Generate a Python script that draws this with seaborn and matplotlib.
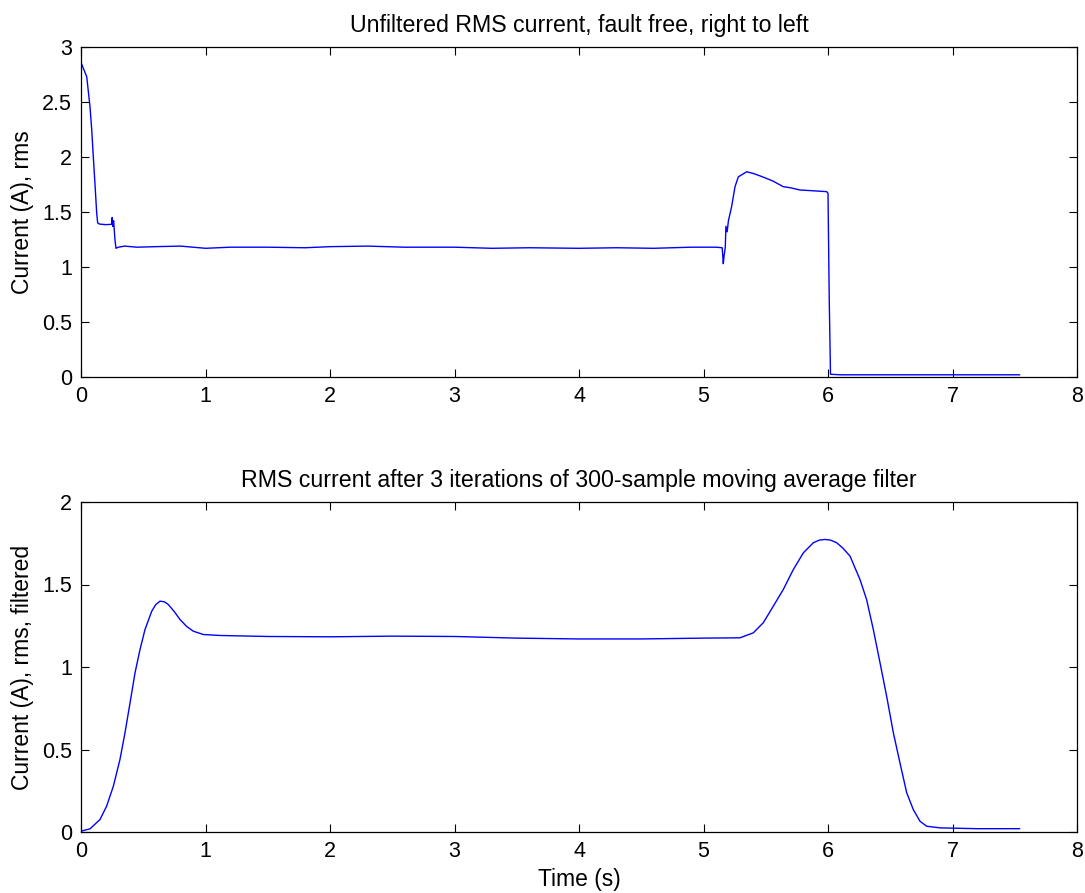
import matplotlib
matplotlib.use("Agg")
import matplotlib.pyplot as plt
import seaborn as sns
import pandas as pd

# ---- Data ----
# Top panel: unfiltered RMS current
t_raw = [0.00, 0.005, 0.046, 0.072, 0.086, 0.099, 0.112, 0.126, 0.134, 0.15, 0.20, 0.246,
         0.250, 0.255, 0.262, 0.273, 0.281, 0.30, 0.35, 0.45, 0.60, 0.80, 1.00, 1.20,
         1.50, 1.80, 2.00, 2.30, 2.60, 3.00, 3.30, 3.60, 4.00, 4.30, 4.60, 4.90, 5.10,
         5.150, 5.159, 5.165, 5.175, 5.180, 5.190, 5.200, 5.226, 5.253, 5.280, 5.347,
         5.400, 5.450, 5.507, 5.560, 5.641, 5.700, 5.775, 5.850, 5.920, 5.990, 6.000,
         6.010, 6.020, 6.100, 6.500, 7.000, 7.540]
i_raw = [2.86, 2.845, 2.73, 2.46, 2.25, 2.00, 1.76, 1.49, 1.40, 1.39, 1.385, 1.388,
         1.45, 1.37, 1.42, 1.245, 1.17, 1.18, 1.19, 1.18, 1.185, 1.19, 1.17, 1.18,
         1.18, 1.175, 1.185, 1.19, 1.18, 1.18, 1.17, 1.175, 1.17, 1.175, 1.17, 1.18, 1.18,
         1.175, 1.03, 1.10, 1.18, 1.37, 1.32, 1.42, 1.55, 1.73, 1.82, 1.866,
         1.85, 1.83, 1.805, 1.78, 1.73, 1.72, 1.70, 1.695, 1.69, 1.685, 1.67,
         0.70, 0.025, 0.02, 0.02, 0.02, 0.02]

# Bottom panel: filtered RMS current
t_filt = [0.000, 0.072, 0.153, 0.206, 0.260, 0.313, 0.353, 0.394, 0.434, 0.474, 0.514,
          0.568, 0.600, 0.635, 0.670, 0.701, 0.750, 0.795, 0.850, 0.902, 0.982, 1.116,
          1.500, 2.000, 2.500, 3.000, 3.500, 4.000, 4.500, 5.000, 5.293, 5.400, 5.480,
          5.561, 5.641, 5.721, 5.802, 5.882, 5.930, 5.976, 6.020, 6.070, 6.120, 6.177,
          6.257, 6.310, 6.364, 6.418, 6.471, 6.525, 6.578, 6.632, 6.685, 6.739, 6.793,
          6.900, 7.200, 7.540]
i_filt = [0.005, 0.019, 0.076, 0.157, 0.278, 0.440, 0.600, 0.783, 0.965, 1.106, 1.227,
          1.338, 1.378, 1.399, 1.395, 1.379, 1.335, 1.288, 1.245, 1.217, 1.197, 1.191,
          1.185, 1.183, 1.187, 1.185, 1.175, 1.170, 1.170, 1.175, 1.177, 1.207, 1.268,
          1.369, 1.470, 1.590, 1.692, 1.753, 1.769, 1.773, 1.769, 1.753, 1.720, 1.672,
          1.530, 1.409, 1.227, 1.025, 0.823, 0.601, 0.419, 0.238, 0.136, 0.065, 0.035,
          0.025, 0.020, 0.020]

x_ticks = [0, 1, 2, 3, 4, 5, 6, 7, 8]
y_ticks_top = [0, 0.5, 1, 1.5, 2, 2.5, 3]
y_ticks_bot = [0, 0.5, 1, 1.5, 2]
y_labels_top = ["0", "0.5", "1", "1.5", "2", "2.5", "3"]
y_labels_bot = ["0", "0.5", "1", "1.5", "2"]

title_top = "Unfiltered RMS current, fault free, right to left"
title_bot = "RMS current after 3 iterations of 300-sample moving average filter"

# ---- Plot ----
sns.set_style("ticks")
plt.rcParams["font.family"] = ["Liberation Sans", "DejaVu Sans"]
plt.rcParams["text.color"] = "black"
plt.rcParams["axes.labelcolor"] = "black"

fig = plt.figure(figsize=(10.85, 8.93), dpi=100)
ax1 = fig.add_axes([81 / 1085, 1 - 377 / 893, 996 / 1085, 330 / 893])
ax2 = fig.add_axes([81 / 1085, 1 - 832 / 893, 996 / 1085, 330 / 893])

df_top = pd.DataFrame({"t": t_raw, "i": i_raw})
df_bot = pd.DataFrame({"t": t_filt, "i": i_filt})

sns.lineplot(data=df_top, x="t", y="i", ax=ax1, color="#0000ff", linewidth=1.0,
             sort=False, estimator=None)
sns.lineplot(data=df_bot, x="t", y="i", ax=ax2, color="#0000ff", linewidth=1.0,
             sort=False, estimator=None)

for ax, yt, yl, ymax in [(ax1, y_ticks_top, y_labels_top, 3), (ax2, y_ticks_bot, y_labels_bot, 2)]:
    ax.set_xlim(0, 8)
    ax.set_ylim(0, ymax)
    ax.set_xticks(x_ticks)
    ax.set_xticklabels([str(v) for v in x_ticks])
    ax.set_yticks(yt)
    ax.set_yticklabels(yl)
    ax.tick_params(direction="in", top=True, right=True, length=6, width=0.8,
                   labelsize=15.5, colors="black", pad=6.5)
    for s in ax.spines.values():
        s.set_visible(True)
        s.set_linewidth(0.9)
        s.set_color("black")

ax1.set_title(title_top, fontsize=16.7, pad=11, color="black")
ax2.set_title(title_bot, fontsize=16.7, pad=11, color="black")
ax1.set_xlabel("")
ax1.set_ylabel("Current (A), rms", fontsize=16.5)
ax2.set_xlabel("Time (s)", fontsize=16.5)
ax2.set_ylabel("Current (A), rms, filtered", fontsize=16.5)
ax1.yaxis.set_label_coords(-0.047, 0.5)
ax2.yaxis.set_label_coords(-0.047, 0.5)
ax2.xaxis.set_label_coords(0.5, -0.109)

fig.savefig("out.png", dpi=100, facecolor="white")
